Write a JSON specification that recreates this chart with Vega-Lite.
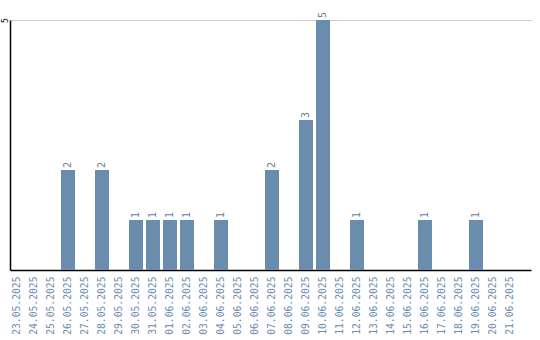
{
  "$schema": "https://vega.github.io/schema/vega-lite/v6.json",
  "width": 521,
  "height": 250,
  "autosize": {"type": "none"},
  "padding": {"left": 10, "top": 20, "right": 9, "bottom": 70},
  "background": "white",
  "config": {"view": {"stroke": null}, "font": "DejaVu Sans Mono"},
  "data": {"values": [
    {"date": "26.05.2025", "count": 2},
    {"date": "28.05.2025", "count": 2},
    {"date": "30.05.2025", "count": 1},
    {"date": "31.05.2025", "count": 1},
    {"date": "01.06.2025", "count": 1},
    {"date": "02.06.2025", "count": 1},
    {"date": "04.06.2025", "count": 1},
    {"date": "07.06.2025", "count": 2},
    {"date": "09.06.2025", "count": 3},
    {"date": "10.06.2025", "count": 5},
    {"date": "12.06.2025", "count": 1},
    {"date": "16.06.2025", "count": 1},
    {"date": "19.06.2025", "count": 1}
  ]},
  "encoding": {
    "x": {
      "field": "date", "type": "ordinal", "sort": null,
      "scale": {
        "domain": ["23.05.2025","24.05.2025","25.05.2025","26.05.2025","27.05.2025","28.05.2025","29.05.2025","30.05.2025","31.05.2025","01.06.2025","02.06.2025","03.06.2025","04.06.2025","05.06.2025","06.06.2025","07.06.2025","08.06.2025","09.06.2025","10.06.2025","11.06.2025","12.06.2025","13.06.2025","14.06.2025","15.06.2025","16.06.2025","17.06.2025","18.06.2025","19.06.2025","20.06.2025","21.06.2025"],
        "paddingInner": 0.176, "paddingOuter": 0.4115, "align": 0
      },
      "axis": {
        "title": null, "labelAngle": -90, "labelAlign": "right", "labelBaseline": "middle",
        "labelColor": "#6a8cad", "labelFontSize": 9.7, "labelPadding": 6,
        "ticks": false, "domainColor": "#000000", "domainWidth": 1.5, "grid": false
      }
    },
    "y": {
      "field": "count", "type": "quantitative",
      "scale": {"domain": [0, 5], "nice": false},
      "axis": {
        "title": null, "values": [5], "labelAngle": -90, "labelAlign": "center", "labelBaseline": "middle",
        "labelFontSize": 8, "labelColor": "#000000", "labelPadding": 5, "labelFlush": false,
        "ticks": false, "domainColor": "#000000", "domainWidth": 1.5,
        "grid": true, "gridColor": "#cccccc", "gridWidth": 1
      }
    }
  },
  "layer": [
    {"mark": {"type": "bar", "color": "#6a8cad"}},
    {
      "mark": {"type": "text", "angle": -90, "align": "left", "baseline": "middle", "dx": 2, "fontSize": 10, "color": "#6a7f96"},
      "encoding": {"text": {"field": "count", "type": "quantitative"}}
    }
  ]
}
